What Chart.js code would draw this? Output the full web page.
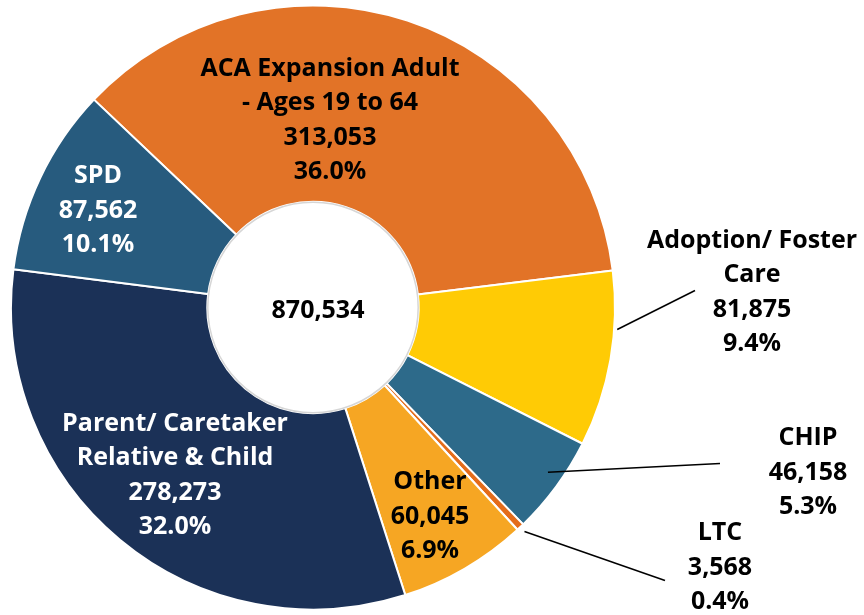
<!DOCTYPE html>
<html lang="en">
<head>
    <meta charset="UTF-8">
    <title>Enrollment by Aid Category</title>
    <style>
        html, body { margin: 0; padding: 0; background: #fff; }
        #wrap { width: 864px; height: 615px; }
    </style>
</head>
<body>
    <div id="wrap"><canvas id="donut" width="864" height="615"></canvas></div>

    <script src="https://cdn.jsdelivr.net/npm/chart.js"></script>
    <script>
        // data
        const categories = ['ACA Expansion Adult - Ages 19 to 64', 'Adoption/ Foster Care', 'CHIP', 'LTC', 'Other', 'Parent/ Caretaker Relative & Child', 'SPD'];
        const labelLines = [
            ['ACA Expansion Adult', '- Ages 19 to 64'],
            ['Adoption/ Foster', 'Care'],
            ['CHIP'],
            ['LTC'],
            ['Other'],
            ['Parent/ Caretaker', 'Relative & Child'],
            ['SPD']
        ];
        const enrollment = [313053, 81875, 46158, 3568, 60045, 278273, 87562];
        const percents = ['36.0%', '9.4%', '5.3%', '0.4%', '6.9%', '32.0%', '10.1%'];
        const totalLabel = '870,534';

        const colors = ['#E27327', '#FFCB05', '#2D6A8A', '#E46C1A', '#F6A623', '#1B3157', '#275B7E'];
        const textColors = ['#000', '#000', '#000', '#000', '#000', '#fff', '#fff'];

        // label placement, offsets from the doughnut centre (px)
        const labelPos = [[17, -187], [439, -15], [495, 165], [407, 260], [117, 209], [-138, 168], [-215, -97]];
        // leader lines: [fraction along arc, radius factor, end dx, end dy]
        const leaders = { 1: [0.33, 1.01, 382, -17], 2: [0.43, 0.95, 407, 156], 3: [0.5, 1.02, 352, 273] };

        const FONT = 'bold 25px "Open Sans", "DejaVu Sans", sans-serif';
        const LINE_H = 34.5;

        const labelPlugin = {
            id: 'sliceLabels',
            afterDraw(chart) {
                const ctx = chart.ctx;
                const arcs = chart.getDatasetMeta(0).data;
                const cx = arcs[0].x, cy = arcs[0].y;
                const rIn = arcs[0].innerRadius, rOut = arcs[0].outerRadius;
                ctx.save();

                // faint ring around the hole
                ctx.strokeStyle = '#d6d6d6';
                ctx.lineWidth = 1.5;
                ctx.beginPath();
                ctx.arc(cx, cy, rIn - 0.5, 0, Math.PI * 2);
                ctx.stroke();

                // leader lines
                ctx.strokeStyle = '#000';
                ctx.lineWidth = 1.5;
                Object.keys(leaders).forEach(k => {
                    const a = arcs[k];
                    const [f, rf, ex, ey] = leaders[k];
                    const ang = a.startAngle + (a.endAngle - a.startAngle) * f;
                    const r = rOut * rf;
                    ctx.beginPath();
                    ctx.moveTo(cx + Math.cos(ang) * r, cy + Math.sin(ang) * r);
                    ctx.lineTo(cx + ex, cy + ey);
                    ctx.stroke();
                });

                ctx.font = FONT;
                ctx.textAlign = 'center';
                ctx.textBaseline = 'middle';
                categories.forEach((c, i) => {
                    const lines = labelLines[i].concat([enrollment[i].toLocaleString('en-US'), percents[i]]);
                    const x = cx + labelPos[i][0];
                    const y0 = cy + labelPos[i][1] - (lines.length - 1) * LINE_H / 2;
                    ctx.fillStyle = textColors[i];
                    lines.forEach((t, j) => ctx.fillText(t, x, y0 + j * LINE_H));
                });

                ctx.fillStyle = '#000';
                ctx.fillText(totalLabel, cx + 5, cy + 3);
                ctx.restore();
            }
        };

        new Chart(document.getElementById('donut').getContext('2d'), {
            type: 'doughnut',
            data: {
                labels: categories,
                datasets: [{
                    data: enrollment,
                    backgroundColor: colors,
                    borderColor: '#ffffff',
                    borderWidth: 2
                }]
            },
            options: {
                responsive: false,
                animation: false,
                cutout: '35%',
                rotation: -46.5,
                layout: { padding: { left: 10, right: 248, top: 4, bottom: 4 } },
                plugins: {
                    legend: { display: false },
                    tooltip: { enabled: false }
                }
            },
            plugins: [labelPlugin]
        });
    </script>
</body>
</html>
